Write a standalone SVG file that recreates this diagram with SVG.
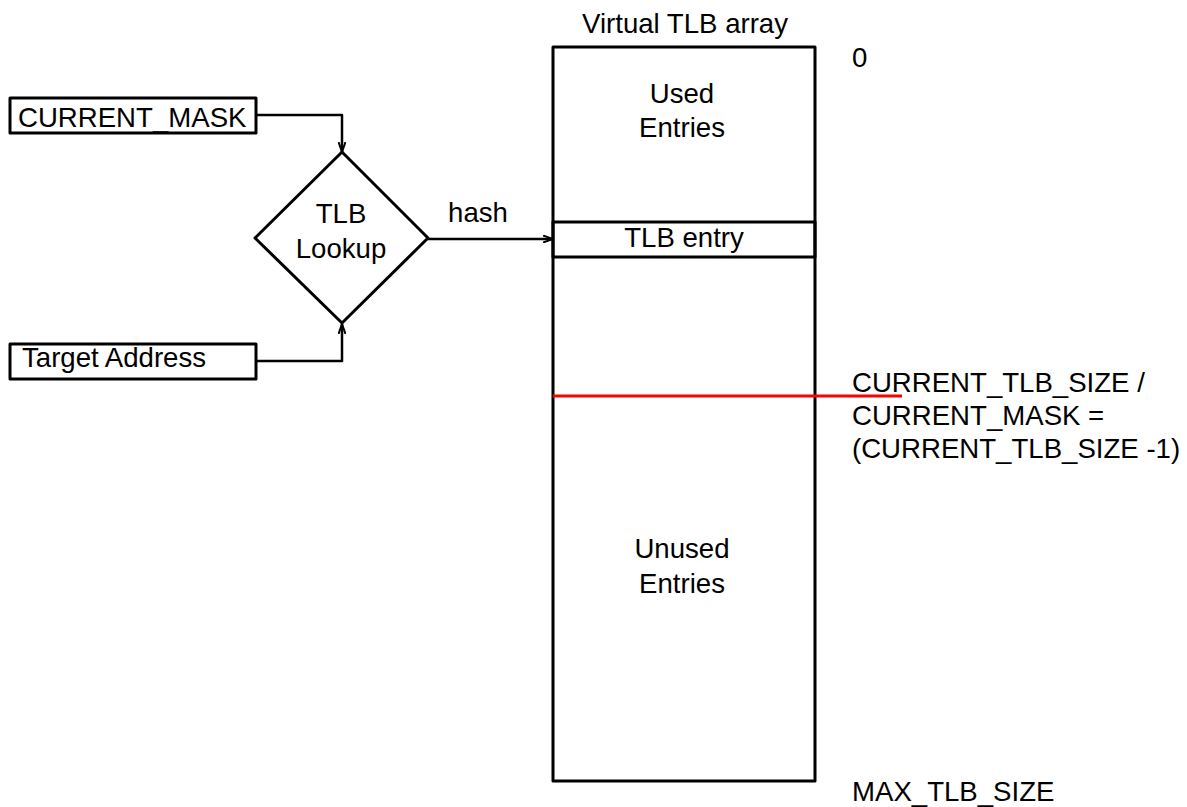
<svg xmlns="http://www.w3.org/2000/svg" width="1187" height="807" viewBox="0 0 1187 807">
  <style>
    .box { fill: none; stroke: #000; stroke-width: 3; stroke-linejoin: round; }
    .wire { fill: none; stroke: #000; stroke-width: 2.5; stroke-linejoin: round; }
    .lbl { font-family: "Liberation Sans", Arial, Helvetica, sans-serif; font-size: 27.6px; fill: #000; }
    .mid { text-anchor: middle; }
  </style>
  <defs>
    <marker id="arrow" viewBox="0 0 10 8" refX="10" refY="4" markerWidth="10" markerHeight="8" markerUnits="userSpaceOnUse" orient="auto">
      <path d="M0,0.5 L10,4 L0,7.5" fill="none" stroke="#000" stroke-width="2"/>
    </marker>
  </defs>
  <rect width="1187" height="807" fill="#fff"/>

  <!-- connectors -->
  <g id="connectors">
    <polyline class="wire" points="256,115 342,115 342,152" marker-end="url(#arrow)"/>
    <polyline class="wire" points="256,361 342,361 342,324" marker-end="url(#arrow)"/>
    <line class="wire" x1="428" y1="239" x2="553" y2="239" marker-end="url(#arrow)"/>
    <text class="lbl mid" x="478" y="222">hash</text>
  </g>

  <!-- inputs -->
  <g id="current-mask">
    <rect class="box" x="10" y="98" width="246" height="35"/>
    <text class="lbl" x="18" y="127">CURRENT_MASK</text>
  </g>
  <g id="target-address">
    <rect class="box" x="10" y="344" width="246" height="35"/>
    <text class="lbl" x="22" y="367">Target Address</text>
  </g>

  <!-- decision -->
  <g id="tlb-lookup">
    <polygon class="box" points="342,152 428,238 342,323 255,238"/>
    <text class="lbl mid" x="341" y="223">TLB</text>
    <text class="lbl mid" x="341" y="258">Lookup</text>
  </g>

  <!-- virtual TLB array -->
  <g id="tlb-array">
    <text class="lbl mid" x="685" y="33">Virtual TLB array</text>
    <rect class="box" x="553" y="47" width="262" height="734"/>
    <text class="lbl mid" x="682" y="103">Used</text>
    <text class="lbl mid" x="682" y="137">Entries</text>
    <text class="lbl mid" x="682" y="558">Unused</text>
    <text class="lbl mid" x="682" y="593">Entries</text>
  </g>
  <g id="tlb-entry">
    <rect class="box" x="553" y="222" width="262" height="35"/>
    <text class="lbl mid" x="684" y="247">TLB entry</text>
  </g>

  <!-- size marker -->
  <g id="size-marker">
    <line x1="553" y1="396" x2="902" y2="396" stroke="#ff0000" stroke-width="3"/>
    <text class="lbl" x="852" y="392">CURRENT_TLB_SIZE /</text>
    <text class="lbl" x="852" y="425">CURRENT_MASK =</text>
    <text class="lbl" x="852" y="458">(CURRENT_TLB_SIZE -1)</text>
  </g>

  <!-- index labels -->
  <g id="bounds">
    <text class="lbl" x="852" y="67">0</text>
    <text class="lbl" x="852" y="801">MAX_TLB_SIZE</text>
  </g>
</svg>
